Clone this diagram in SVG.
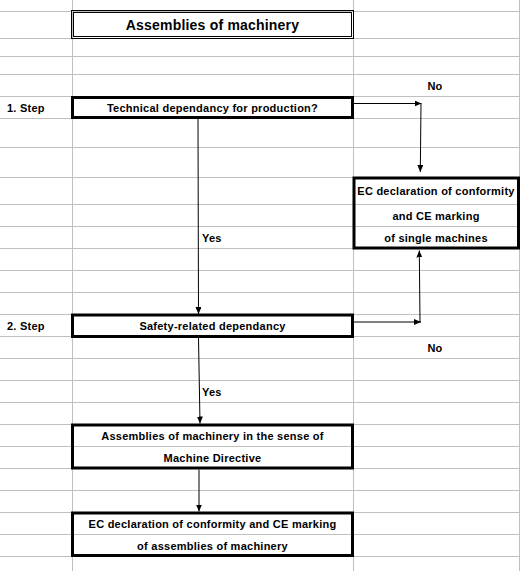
<svg xmlns="http://www.w3.org/2000/svg" width="520" height="571" viewBox="0 0 520 571">
<style>
.grid line{stroke:#c0c0c0;stroke-width:1}
.box{fill:none;stroke:#000;stroke-width:3}
.thin{fill:none;stroke:#000;stroke-width:1}
text{font-family:"Liberation Sans",Arial,sans-serif;font-weight:bold;font-size:11px;letter-spacing:0.25px;fill:#000}
.c{text-anchor:middle}
.title{font-size:14px;letter-spacing:0.2px}
.conn line{stroke:#000;stroke-width:1;fill:none}
</style>
<defs>
<marker id="ah" viewBox="0 0 7 6" refX="7" refY="3" markerWidth="7" markerHeight="6" markerUnits="userSpaceOnUse" orient="auto">
<path d="M0,0 L7,3 L0,6 Z" fill="#000"/>
</marker>
</defs>
<rect width="520" height="571" fill="#fff"/>
<g class="grid">
<line x1="0" y1="11.5" x2="520" y2="11.5"/>
<line x1="0" y1="38.5" x2="520" y2="38.5"/>
<line x1="0" y1="56.5" x2="520" y2="56.5"/>
<line x1="0" y1="74.5" x2="520" y2="74.5"/>
<line x1="0" y1="96.5" x2="520" y2="96.5"/>
<line x1="0" y1="118.5" x2="520" y2="118.5"/>
<line x1="0" y1="147.5" x2="520" y2="147.5"/>
<line x1="0" y1="177.5" x2="520" y2="177.5"/>
<line x1="0" y1="204.5" x2="520" y2="204.5"/>
<line x1="0" y1="226.5" x2="520" y2="226.5"/>
<line x1="0" y1="248.5" x2="520" y2="248.5"/>
<line x1="0" y1="270.5" x2="520" y2="270.5"/>
<line x1="0" y1="292.5" x2="520" y2="292.5"/>
<line x1="0" y1="314.5" x2="520" y2="314.5"/>
<line x1="0" y1="336.5" x2="520" y2="336.5"/>
<line x1="0" y1="358.5" x2="520" y2="358.5"/>
<line x1="0" y1="380.5" x2="520" y2="380.5"/>
<line x1="0" y1="402.5" x2="520" y2="402.5"/>
<line x1="0" y1="424.5" x2="520" y2="424.5"/>
<line x1="0" y1="446.5" x2="520" y2="446.5"/>
<line x1="0" y1="468.5" x2="520" y2="468.5"/>
<line x1="0" y1="490.5" x2="520" y2="490.5"/>
<line x1="0" y1="512.5" x2="520" y2="512.5"/>
<line x1="0" y1="534.5" x2="520" y2="534.5"/>
<line x1="0" y1="556.5" x2="520" y2="556.5"/>
<line x1="72.5" y1="0" x2="72.5" y2="571"/>
<line x1="353.5" y1="0" x2="353.5" y2="571"/>
<line x1="519.5" y1="0" x2="519.5" y2="571"/>
</g>
<text x="7" y="112">1. Step</text>
<text x="7" y="330">2. Step</text>
<g id="title">
<rect class="thin" x="71.5" y="10.5" width="282" height="28"/>
<rect class="thin" x="73.5" y="12.5" width="278" height="24"/>
<text class="c title" x="212.5" y="30">Assemblies of machinery</text>
</g>
<g id="step1">
<rect class="box" x="72.5" y="97.5" width="280" height="20"/>
<text class="c" x="212.5" y="112">Technical dependancy for production?</text>
</g>
<g id="single">
<rect class="box" x="354" y="178" width="164.5" height="70"/>
<text class="c" x="436" y="195">EC declaration of conformity</text>
<text class="c" x="436" y="220">and CE marking</text>
<text class="c" x="436" y="241.5">of single machines</text>
</g>
<g id="step2">
<rect class="box" x="72.5" y="315" width="280" height="21.5"/>
<text class="c" x="212.5" y="330">Safety-related dependancy</text>
</g>
<g id="assemblies">
<rect class="box" x="72.5" y="425" width="280" height="43"/>
<text class="c" x="212.5" y="440">Assemblies of machinery in the sense of</text>
<text class="c" x="212.5" y="462">Machine Directive</text>
</g>
<g id="declaration">
<rect class="box" x="72.5" y="513" width="280" height="42.5"/>
<text class="c" x="212.5" y="527.5">EC declaration of conformity and CE marking</text>
<text class="c" x="212.5" y="549.5">of assemblies of machinery</text>
</g>
<g class="conn">
<line x1="198" y1="119" x2="198.5" y2="314" marker-end="url(#ah)"/>
<line x1="198.5" y1="338" x2="200" y2="423.5" marker-end="url(#ah)"/>
<line x1="199" y1="469.5" x2="199" y2="511.5" marker-end="url(#ah)"/>
<line x1="354" y1="103.5" x2="421.5" y2="103.5" marker-end="url(#ah)"/>
<line x1="421" y1="103.5" x2="420.3" y2="172" marker-end="url(#ah)"/>
<line x1="354" y1="322" x2="421" y2="322" marker-end="url(#ah)"/>
<line x1="420" y1="322" x2="419.3" y2="250.5" marker-end="url(#ah)"/>
</g>
<text class="c" x="435" y="90">No</text>
<text class="c" x="435" y="352">No</text>
<text x="202" y="241.5">Yes</text>
<text x="202" y="396">Yes</text>
</svg>
